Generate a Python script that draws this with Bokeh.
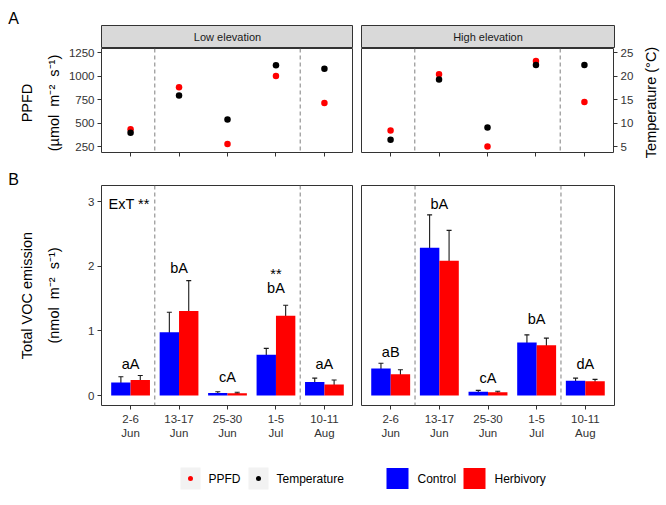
import numpy as np
from bokeh.plotting import figure
from bokeh.models import (Range1d, LinearAxis, FixedTicker, Whisker,
                          ColumnDataSource, TeeHead, Span, CustomLabelingPolicy)
from bokeh.layouts import column, row
from bokeh.embed import file_html
from bokeh.resources import INLINE
from bokeh.core.properties import value

FONT = "Liberation Sans"

# ---------------- data ----------------
periods = ["2-6\nJun", "13-17\nJun", "25-30\nJun", "1-5\nJul", "10-11\nAug"]
elevations = ["Low elevation", "High elevation"]

ppfd_low = [436, 881, 280, 1003, 716]
ppfd_high = [422, 1020, 253, 1162, 726]
temp_low = [8.0, 15.9, 10.8, 22.3, 21.6]
temp_high = [6.5, 19.3, 9.1, 22.4, 22.4]

ctrl_low = [0.20, 0.98, 0.04, 0.63, 0.21]
ctrl_low_lo = [0.12, 0.66, 0.03, 0.52, 0.16]
ctrl_low_hi = [0.29, 1.29, 0.057, 0.73, 0.27]
herb_low = [0.24, 1.31, 0.035, 1.235, 0.17]
herb_low_lo = [0.16, 0.84, 0.025, 1.07, 0.09]
herb_low_hi = [0.31, 1.78, 0.05, 1.40, 0.24]

ctrl_high = [0.42, 2.29, 0.06, 0.82, 0.23]
ctrl_high_lo = [0.35, 1.79, 0.04, 0.70, 0.18]
ctrl_high_hi = [0.50, 2.80, 0.08, 0.94, 0.27]
herb_high = [0.33, 2.09, 0.05, 0.78, 0.22]
herb_high_lo = [0.26, 1.64, 0.035, 0.67, 0.19]
herb_high_hi = [0.40, 2.56, 0.065, 0.89, 0.25]

letters_low = ["aA", "bA", "cA", "bA", "aA"]
letters_low_y = [0.485, 1.98, 0.28, 1.67, 0.485]
letters_high = ["aB", "bA", "cA", "bA", "dA"]
letters_high_y = [0.68, 2.97, 0.27, 1.18, 0.485]
stars_low_x = [4]
stars_low = ["**"]
stars_low_y = [1.88]
interaction_text = "ExT **"

ppfd_ticks = [250, 500, 750, 1000, 1250]
temp_ticks = [5, 10, 15, 20, 25]
voc_ticks = [0, 1, 2, 3]
period_breaks = [1.5, 4.5]

ppfd_title = ["PPFD", "(µmol\u00a0 m⁻²\u00a0 s⁻¹)"]
voc_title = ["Total VOC emission", "(nmol\u00a0 m⁻²\u00a0 s⁻¹)"]
temp_title = "Temperature (°C)"
panel_tags = ["A", "B"]

PPFD_START, PPFD_END = 189, 1294
TEMP_SCALE = 50.0
VOC_START, VOC_END = -0.155, 3.255
X_START, X_END = 0.4, 5.6

BLUE = "#0000FF"
RED = "#FF0000"

xs = np.arange(1, len(periods) + 1)
tick_overrides = {int(i): lab for i, lab in zip(xs, periods)}


def base_fig(width, height, mbl, mbr, mbt, mbb, yr, **kw):
    p = figure(width=width, height=height, x_range=Range1d(X_START, X_END),
               y_range=yr, output_backend="svg", toolbar_location=None,
               min_border_left=mbl, min_border_right=mbr,
               min_border_top=mbt, min_border_bottom=mbb, **kw)
    p.xgrid.visible = False
    p.ygrid.visible = False
    p.outline_line_color = "#333333"
    p.outline_line_width = 1
    p.border_fill_color = "white"
    p.background_fill_color = "white"
    return p


def style_axis(ax, ticks, show_labels=True, overrides=None):
    ax.ticker = FixedTicker(ticks=ticks)
    ax.axis_line_color = None
    ax.major_tick_line_color = "#333333"
    ax.major_tick_out = 4
    ax.major_tick_in = 0
    ax.minor_tick_line_color = None
    ax.major_label_text_font = FONT
    ax.major_label_text_color = "#333333"
    ax.major_label_standoff = 3
    ax.major_label_text_font_size = "11.5px"
    if not show_labels:
        ax.major_label_policy = CustomLabelingPolicy(code="return new Set()")
        ax.major_label_standoff = 0
    if overrides:
        ax.major_label_overrides = overrides


def add_breaks(p):
    for b in period_breaks:
        p.add_layout(Span(location=b, dimension="height", line_color="#7F7F7F",
                          line_width=1, line_dash="4 3"))


def margin_fig(width, height):
    p = figure(width=width, height=height, x_range=Range1d(0, width),
               y_range=Range1d(height, 0), output_backend="svg",
               toolbar_location=None, min_border=0,
               x_axis_location=None, y_axis_location=None)
    p.xgrid.visible = False
    p.ygrid.visible = False
    p.outline_line_color = None
    p.border_fill_color = "white"
    p.background_fill_color = "white"
    return p


# ---------------- left / right margins with titles ----------------
LEFT = margin_fig(64, 445)
LEFT.text(x=[13, 13], y=[17.5, 179], text=panel_tags, text_align="center",
          text_baseline="middle", text_font=value(FONT), text_font_size="16px",
          text_color="black")
LEFT.text(x=[26.7, 53, 26.7, 53.3], y=[102.5, 102.5, 295, 295],
          text=ppfd_title + voc_title, angle=np.pi / 2, text_align="center",
          text_baseline="middle", text_font=value(FONT), text_font_size="14.5px",
          text_color="black")

RIGHT = margin_fig(28, 445)
RIGHT.text(x=[14], y=[102], text=[temp_title], angle=np.pi / 2, text_align="center",
           text_baseline="middle", text_font=value(FONT), text_font_size="14.5px",
           text_color="black")


# ---------------- strips ----------------
def strip(width, mbl, mbr, text):
    p = base_fig(width, 48, mbl, mbr, 25, 0, Range1d(0, 1),
                 x_axis_location=None, y_axis_location=None)
    p.background_fill_color = "#D9D9D9"
    p.text(x=[(X_START + X_END) / 2], y=[0.5], text=[text], text_align="center",
           text_baseline="middle", text_font=value(FONT), text_font_size="11px",
           text_color="#1A1A1A")
    return p


SL = strip(289, 37, 0, elevations[0])
SR = strip(283, 8, 22, elevations[1])


# ---------------- top panels ----------------
def top_panel(width, mbl, mbr, ppfd, temp, left_axis, right_axis):
    p = base_fig(width, 119, mbl, mbr, 0, 10, Range1d(PPFD_START, PPFD_END),
                 y_axis_location="left" if left_axis else None)
    p.extra_y_ranges = {"temp": Range1d(PPFD_START / TEMP_SCALE, PPFD_END / TEMP_SCALE)}
    style_axis(p.xaxis[0], list(xs), show_labels=False)
    if left_axis:
        style_axis(p.yaxis[0], ppfd_ticks)
    if right_axis:
        ax = LinearAxis(y_range_name="temp")
        style_axis(ax, temp_ticks)
        p.add_layout(ax, "right")
    add_breaks(p)
    p.scatter(x=xs, y=ppfd, size=6.5, fill_color=RED, line_color=None)
    p.scatter(x=xs, y=temp, size=6.5, fill_color="black", line_color=None,
              y_range_name="temp")
    return p


TL = top_panel(289, 37, 0, ppfd_low, temp_low, True, False)
TR = top_panel(283, 8, 22, ppfd_high, temp_high, False, True)


# ---------------- bottom panels ----------------
def bottom_panel(width, mbl, mbr, ctrl, clo, chi, herb, hlo, hhi, lets, lets_y,
                 left_axis):
    p = base_fig(width, 278, mbl, mbr, 18, 40, Range1d(VOC_START, VOC_END),
                 y_axis_location="left" if left_axis else None)
    style_axis(p.xaxis[0], list(xs), overrides=tick_overrides)
    if left_axis:
        style_axis(p.yaxis[0], voc_ticks)
    add_breaks(p)
    src_c = ColumnDataSource(dict(x=xs - 0.2, top=ctrl, lo=clo, hi=chi))
    src_h = ColumnDataSource(dict(x=xs + 0.2, top=herb, lo=hlo, hi=hhi))
    p.vbar(x="x", top="top", bottom=0, width=0.4, source=src_c,
           fill_color=BLUE, line_color=None)
    p.vbar(x="x", top="top", bottom=0, width=0.4, source=src_h,
           fill_color=RED, line_color=None)
    for s in (src_c, src_h):
        p.add_layout(Whisker(source=s, base="x", upper="hi", lower="lo",
                             line_color="#1A1A1A", line_width=1.1,
                             upper_head=TeeHead(size=5, line_color="#1A1A1A", line_width=1.1),
                             lower_head=TeeHead(size=5, line_color="#1A1A1A", line_width=1.1)))
    p.text(x=xs, y=lets_y, text=lets, text_align="center", text_baseline="middle",
           text_font=value(FONT), text_font_size="14.5px", text_color="black")
    return p


BL = bottom_panel(289, 37, 0, ctrl_low, ctrl_low_lo, ctrl_low_hi,
                  herb_low, herb_low_lo, herb_low_hi, letters_low, letters_low_y, True)
BR = bottom_panel(283, 8, 22, ctrl_high, ctrl_high_lo, ctrl_high_hi,
                  herb_high, herb_high_lo, herb_high_hi, letters_high, letters_high_y, False)
BL.text(x=stars_low_x, y=stars_low_y, text=stars_low, text_align="center",
        text_baseline="middle", text_font=value(FONT), text_font_size="14.5px",
        text_color="black")
BL.text(x=[0.544], y=[2.97], text=[interaction_text], text_align="left",
        text_baseline="middle", text_font=value(FONT), text_font_size="14.5px",
        text_color="black")

# ---------------- legend ----------------
LEG = figure(width=664, height=58, x_range=Range1d(0, 664), y_range=Range1d(58, 0),
             output_backend="svg", toolbar_location=None, min_border=0,
             x_axis_location=None, y_axis_location=None)
LEG.xgrid.visible = False
LEG.ygrid.visible = False
LEG.outline_line_color = None
LEG.border_fill_color = "white"

point_labels = ["PPFD", "Temperature"]
point_colors = [RED, "black"]
point_key_x = [190, 258]
bar_labels = ["Control", "Herbivory"]
bar_colors = [BLUE, RED]
bar_key_x = [397, 474]
KEY_Y = 33

LEG.rect(x=point_key_x, y=[KEY_Y] * 2, width=20, height=22, fill_color="#F2F2F2",
         line_color=None)
LEG.scatter(x=point_key_x, y=[KEY_Y] * 2, size=5, fill_color=point_colors,
            line_color=None)
LEG.rect(x=bar_key_x, y=[KEY_Y] * 2, width=22, height=21, fill_color=bar_colors,
         line_color=None)
LEG.text(x=[k + 18 for k in point_key_x] + [k + 20 for k in bar_key_x], y=[KEY_Y] * 4,
         text=point_labels + bar_labels, text_align="left", text_baseline="middle",
         text_font=value(FONT), text_font_size="12px", text_color="black")

middle = column(row(SL, SR), row(TL, TR), row(BL, BR))
layout = column(row(LEFT, middle, RIGHT), LEG)

open("out.html", "w").write(file_html(layout, INLINE))
